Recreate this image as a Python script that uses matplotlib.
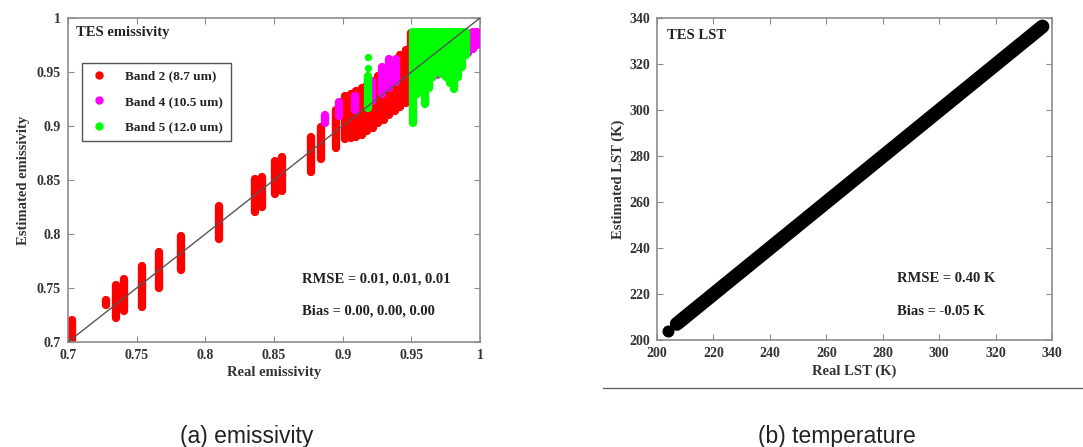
import matplotlib
matplotlib.use("Agg")
import matplotlib.pyplot as plt
from matplotlib.lines import Line2D

# ---------------- data: panel (a) emissivity stripes ----------------
band2_x    = [0.703, 0.728, 0.735, 0.741, 0.754, 0.766, 0.782, 0.810, 0.836, 0.841,
              0.851, 0.856, 0.877, 0.884, 0.895, 0.902, 0.906, 0.910, 0.914, 0.918,
              0.922, 0.926, 0.930, 0.934, 0.938, 0.942, 0.946, 0.950]
band2_ymin = [0.702, 0.734, 0.722, 0.729, 0.732, 0.750, 0.767, 0.795, 0.820, 0.825,
              0.837, 0.840, 0.857, 0.869, 0.880, 0.888, 0.889, 0.890, 0.892, 0.895,
              0.898, 0.903, 0.906, 0.910, 0.914, 0.918, 0.921, 0.925]
band2_ymax = [0.720, 0.739, 0.753, 0.758, 0.770, 0.783, 0.798, 0.826, 0.851, 0.853,
              0.868, 0.871, 0.890, 0.899, 0.915, 0.928, 0.930, 0.932, 0.935, 0.938,
              0.942, 0.946, 0.950, 0.955, 0.960, 0.966, 0.970, 0.986]

band4_x    = [0.887, 0.897, 0.909, 0.921, 0.929, 0.934, 0.939, 0.969, 0.991, 0.995, 0.998]
band4_ymin = [0.903, 0.909, 0.915, 0.923, 0.930, 0.935, 0.941, 0.947, 0.968, 0.971, 0.975]
band4_ymax = [0.910, 0.922, 0.928, 0.942, 0.955, 0.962, 0.962, 0.975, 0.986, 0.987, 0.987]

band5_x    = [0.9185, 0.951, 0.954, 0.957, 0.960, 0.963, 0.966, 0.969, 0.972, 0.975,
              0.978, 0.981, 0.984, 0.987, 0.990]
band5_ymin = [0.917, 0.903, 0.930, 0.935, 0.920, 0.935, 0.945, 0.950, 0.948, 0.945,
              0.940, 0.934, 0.945, 0.955, 0.966]
band5_ymax = [0.946, 0.987, 0.987, 0.987, 0.987, 0.987, 0.987, 0.987, 0.987, 0.987,
              0.987, 0.987, 0.987, 0.987, 0.987]
band5_dots_x = [0.9185, 0.9185]
band5_dots_y = [0.954, 0.964]

emis_ticks = [0.7, 0.75, 0.8, 0.85, 0.9, 0.95, 1.0]
emis_labels = ["0.7", "0.75", "0.8", "0.85", "0.9", "0.95", "1"]

# ---------------- data: panel (b) LST ----------------
lst_dot_real = [203.9]
lst_dot_est = [203.9]
lst_line_real = [207.0, 336.6]
lst_line_est = [207.0, 336.3]
lst_ticks = [200, 220, 240, 260, 280, 300, 320, 340]

W, H = 1083, 447
fig = plt.figure(figsize=(W / 100, H / 100), dpi=100)

serif = ["Liberation Serif", "DejaVu Serif"]
sans = ["Liberation Sans", "DejaVu Sans"]
tick_color = "#333333"
spine_color = "#8c8c8c"


def style_axes(ax):
    for s in ax.spines.values():
        s.set_color(spine_color)
        s.set_linewidth(1.2)
    ax.tick_params(direction="in", length=4, width=0.8, color=spine_color,
                   top=True, right=True, labelsize=10, labelcolor=tick_color, pad=5)
    for lab in ax.get_xticklabels() + ax.get_yticklabels():
        lab.set_fontfamily(serif)
        lab.set_fontweight("bold")


# ---------------- panel (a) ----------------
axa = fig.add_axes([68 / W, 1 - 342 / H, 412 / W, 324 / H])
stripe_lw = 6
axa.vlines(band2_x, band2_ymin, band2_ymax, colors="#ff0000", lw=stripe_lw,
           capstyle="round", zorder=2)
axa.vlines(band4_x, band4_ymin, band4_ymax, colors="#ff00ff", lw=stripe_lw,
           capstyle="round", zorder=3)
axa.vlines(band5_x, band5_ymin, band5_ymax, colors="#00ff00", lw=stripe_lw,
           capstyle="round", zorder=4)
axa.scatter(band5_dots_x, band5_dots_y, s=28, color="#00ff00", zorder=4, lw=0)
axa.plot([0.7, 1.0], [0.7, 1.0], color="#555555", lw=1.0, zorder=5)
axa.set_xlim(0.7, 1.0)
axa.set_ylim(0.7, 1.0)
axa.set_xticks(emis_ticks)
axa.set_xticklabels(emis_labels)
axa.set_yticks(emis_ticks)
axa.set_yticklabels(emis_labels)
style_axes(axa)
axa.set_xlabel("Real emissivity", fontfamily=serif, fontweight="bold", fontsize=10.5,
               color=tick_color, labelpad=3)
axa.set_ylabel("Estimated emissivity", fontfamily=serif, fontweight="bold", fontsize=10.5,
               color=tick_color, labelpad=5)
axa.text(0.02, 0.955, "TES emissivity", transform=axa.transAxes, fontfamily=serif,
         fontweight="bold", fontsize=10.5, color="#222222", va="center", ha="left")
handles = [Line2D([], [], ls="none", marker="o", ms=5, color=c, mec=c)
           for c in ["#ff0000", "#ff00ff", "#00ff00"]]
leg = axa.legend(handles, ["Band 2 (8.7 um)", "Band 4 (10.5 um)", "Band 5 (12.0 um)"],
                 loc="upper left", bbox_to_anchor=(0.017, 0.883), fancybox=False,
                 framealpha=1, edgecolor="#555555", borderpad=0.6, labelspacing=1.0,
                 handletextpad=1.2, handlelength=1.5,
                 prop={"family": serif, "weight": "bold", "size": 9.5})
leg.get_frame().set_linewidth(1.0)
for t in leg.get_texts():
    t.set_color("#222222")
axa.text(0.568, 0.195, "RMSE = 0.01, 0.01, 0.01", transform=axa.transAxes,
         fontfamily=serif, fontweight="bold", fontsize=10.5, color="#222222", va="center")
axa.text(0.568, 0.095, "Bias = 0.00, 0.00, 0.00", transform=axa.transAxes,
         fontfamily=serif, fontweight="bold", fontsize=10.5, color="#222222", va="center")

# ---------------- panel (b) ----------------
axb = fig.add_axes([657 / W, 1 - 340 / H, 395 / W, 322 / H])
axb.plot(lst_line_real, lst_line_est, color="black", lw=10, solid_capstyle="round", zorder=3)
axb.scatter(lst_dot_real, lst_dot_est, s=75, color="black", zorder=3, lw=0)
axb.set_xlim(200, 340)
axb.set_ylim(200, 340)
axb.set_xticks(lst_ticks)
axb.set_yticks(lst_ticks)
style_axes(axb)
axb.set_xlabel("Real LST (K)", fontfamily=serif, fontweight="bold", fontsize=10.5,
               color=tick_color, labelpad=3)
axb.set_ylabel("Estimated LST (K)", fontfamily=serif, fontweight="bold", fontsize=10.5,
               color=tick_color, labelpad=3)
axb.text(0.025, 0.945, "TES LST", transform=axb.transAxes, fontfamily=serif,
         fontweight="bold", fontsize=10.5, color="#222222", va="center")
axb.text(0.607, 0.19, "RMSE = 0.40 K", transform=axb.transAxes, fontfamily=serif,
         fontweight="bold", fontsize=10.5, color="#222222", va="center")
axb.text(0.607, 0.09, "Bias = -0.05 K", transform=axb.transAxes, fontfamily=serif,
         fontweight="bold", fontsize=10.5, color="#222222", va="center")

# frame line under panel (b)
fig.add_artist(Line2D([603 / W, 1.0], [1 - 388 / H, 1 - 388 / H], color="#666666", lw=1.0))

# captions
fig.text(247 / W, 1 - 443 / H, "(a) emissivity", ha="center", va="baseline",
         fontfamily=sans, fontsize=16.5, color="#222222")
fig.text(837 / W, 1 - 443 / H, "(b) temperature", ha="center", va="baseline",
         fontfamily=sans, fontsize=16.5, color="#222222")

fig.savefig("out.png", dpi=100)
